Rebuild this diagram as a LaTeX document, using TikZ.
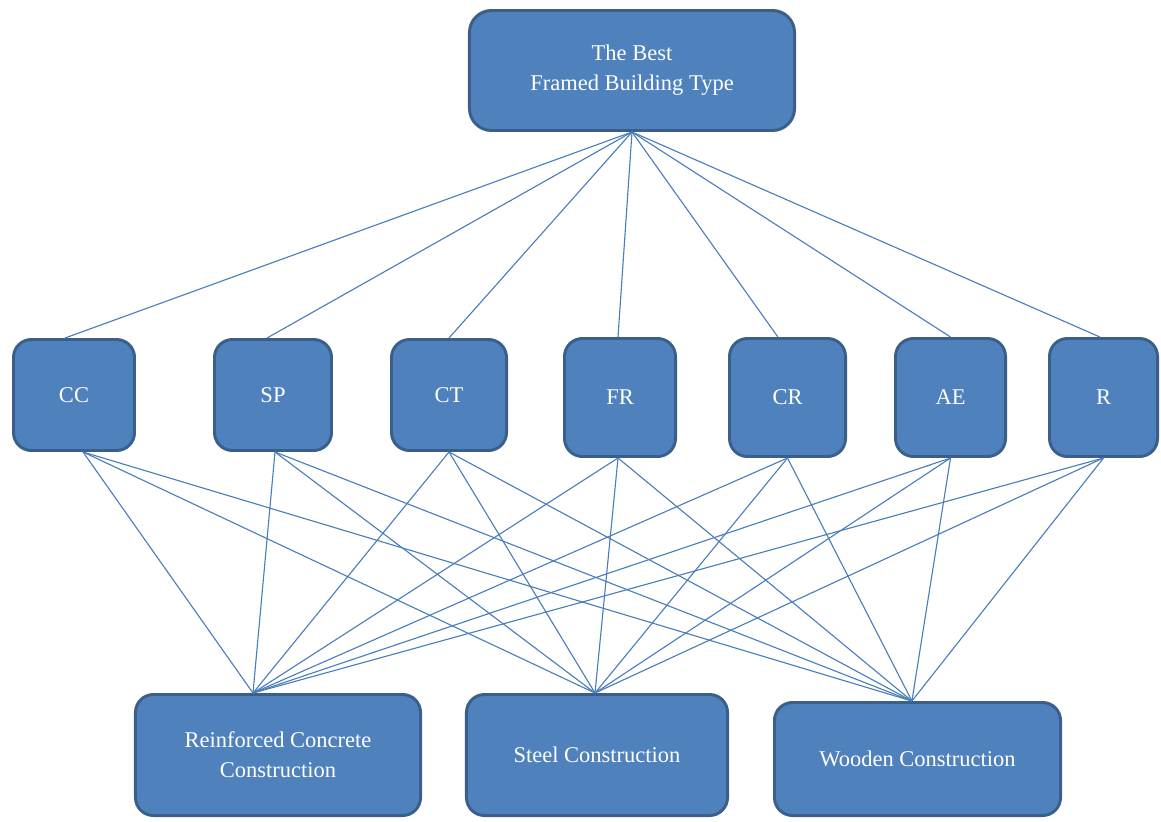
\documentclass[tikz,border=0pt]{standalone}
\usepackage{fontspec}
\setmainfont{Liberation Serif}
\usepackage{tikz}
\usetikzlibrary{positioning}

\definecolor{boxfill}{HTML}{4F81BD}
\definecolor{boxline}{HTML}{3A5F8B}
\definecolor{linkline}{HTML}{4A7EBB}

\tikzset{
    box/.style={draw=boxline, fill=boxfill, line width=2.1pt, rounded corners=0.45cm,
        text=white, align=center, inner sep=0pt,
        font=\fontsize{16}{21.5}\selectfont},
    link/.style={draw=linkline, line width=0.8pt}
}

\begin{document}
\begin{tikzpicture}[x=0.025cm, y=-0.025cm]
        \useasboundingbox (0,0) rectangle (1161,821);
        % Define the nodes
        \node[box, rounded corners=0.55cm, minimum width=8.125cm, minimum height=3cm] (goal) at (632,70.5) {The Best\\Framed Building Type};
        \node[box, minimum width=3.025cm, minimum height=2.775cm] (cc) at (74,395) {CC};
        \node[box, minimum width=2.925cm, minimum height=2.775cm] (sp) at (273,395) {SP};
        \node[box, minimum width=2.875cm, minimum height=2.775cm] (ct) at (449,395) {CT};
        \node[box, minimum width=2.775cm, minimum height=2.95cm] (fr) at (620,397.5) {FR};
        \node[box, minimum width=2.9cm, minimum height=2.95cm] (cr) at (787.5,397.5) {CR};
        \node[box, minimum width=2.75cm, minimum height=2.95cm] (ae) at (950.5,397.5) {AE};
        \node[box, minimum width=2.7cm, minimum height=2.95cm] (r) at (1103.5,397.5) {R};
        \node[box, minimum width=7.125cm, minimum height=3.025cm] (rcc) at (278,755) {Reinforced Concrete\\Construction};
        \node[box, minimum width=6.525cm, minimum height=3.025cm] (steel) at (597,755) {Steel Construction};
        \node[box, minimum width=7.15cm, minimum height=2.825cm] (wood) at (917.5,759) {Wooden Construction};
        % Define the goal to criteria links
        \path[link]
        (goal.south) edge ([xshift=-0.225cm]cc.north)
        (goal.south) edge ([xshift=-0.15cm]sp.north)
        (goal.south) edge (ct.north)
        (goal.south) edge ([xshift=-0.05cm]fr.north)
        (goal.south) edge ([xshift=-0.24cm]cr.north)
        (goal.south) edge (ae.north)
        (goal.south) edge ([xshift=-0.09cm]r.north);
        % Define the criteria to alternative links
        \foreach \crit/\shift in {cc/0.225cm, sp/0.05cm, ct/0cm, fr/-0.05cm, cr/0cm, ae/0cm, r/0cm} {
            \path[link]
            ([xshift=\shift]\crit.south) edge ([xshift=-0.625cm]rcc.north)
            ([xshift=\shift]\crit.south) edge ([xshift=-0.05cm]steel.north)
            ([xshift=\shift]\crit.south) edge ([xshift=-0.14cm]wood.north);
        }
    \end{tikzpicture}
\end{document}
